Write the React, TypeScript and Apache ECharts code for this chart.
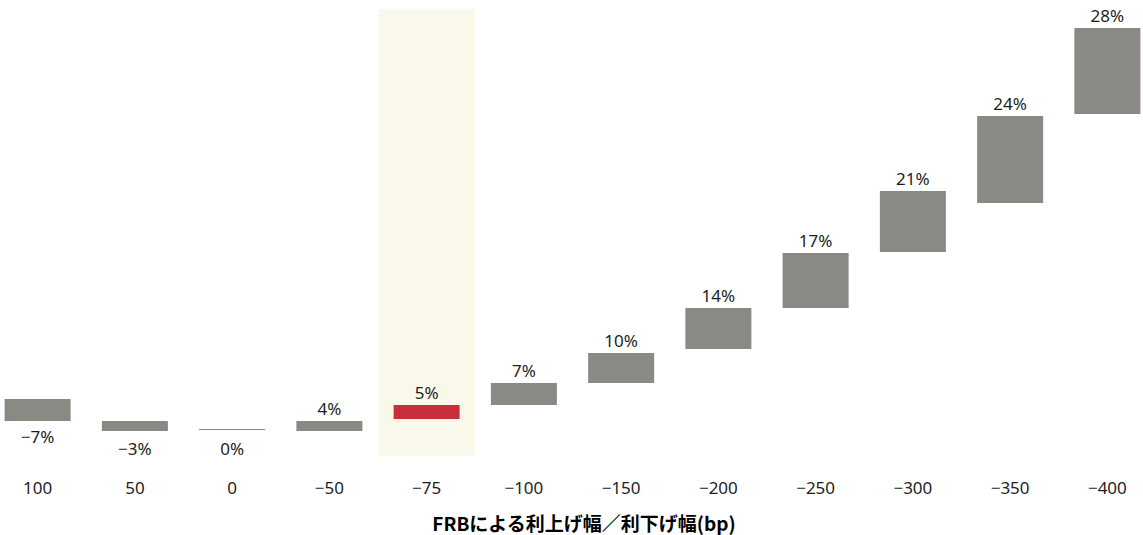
import React, { useEffect, useRef } from "react";
import * as echarts from "echarts";

// FRB rate change (bp)
const categories = ["100", "50", "0", "−50", "−75", "−100", "−150", "−200", "−250", "−300", "−350", "−400"];
// floating bar range (low / high), chart units
const rangeLow = [0.9, -0.1, 0, -0.1, 1.1, 2.5, 4.7, 8.1, 12.2, 17.8, 22.7, 31.6];
const rangeHigh = [3.1, 0.9, 0.1, 0.9, 2.5, 4.7, 7.7, 12.2, 17.7, 23.9, 31.4, 40.2];
const pctLabels = ["−7%", "−3%", "0%", "4%", "5%", "7%", "10%", "14%", "17%", "21%", "24%", "28%"];
const labelBelow = [true, true, true, false, false, false, false, false, false, false, false, false];
const highlightCategory = "−75";

const GRAY = "#8b8984";
const RED = "#c92f3a";
const FONT = "'Noto Sans', 'Open Sans', sans-serif";
const SHIFT = 11;

export default function App() {
  const ref = useRef<HTMLDivElement>(null);
  useEffect(() => {
    if (!ref.current) return;
    const chart = echarts.init(ref.current, undefined, { renderer: "svg" });
    const base = rangeLow.map((v) => v);
    const size = rangeHigh.map((h, i) => +(h - rangeLow[i]).toFixed(2));
    const highlight = categories.map((c) => (c === highlightCategory ? 1 : null));
    const belowDist = [7, 9, 10];
    chart.setOption({
      animation: false,
      grid: [{ left: 0, right: 0, top: 9, bottom: 79 }],
      xAxis: [
        {
          type: "category",
          data: categories,
          axisLine: { show: false },
          axisTick: { show: false },
          axisLabel: { margin: 23, fontSize: 17, color: "#1e1e1e", fontFamily: FONT },
        },
        { type: "category", data: categories, show: false },
      ],
      yAxis: [
        { type: "value", min: -2.6, max: 42.1, show: false, splitLine: { show: false } },
        { type: "value", min: 0, max: 1, show: false, splitLine: { show: false } },
      ],
      series: [
        {
          type: "bar",
          xAxisIndex: 1,
          yAxisIndex: 1,
          data: highlight,
          barWidth: "100%",
          itemStyle: { color: "#faf8ea" },
          silent: true,
          z: 1,
        },
        {
          type: "bar",
          stack: "range",
          stackStrategy: "all",
          data: base,
          barWidth: 66,
          itemStyle: { color: "transparent" },
          silent: true,
          z: 2,
        },
        {
          type: "bar",
          stack: "range",
          stackStrategy: "all",
          barWidth: 66,
          z: 3,
          data: size.map((v, i) => ({
            value: v,
            itemStyle: { color: categories[i] === highlightCategory ? RED : GRAY },
            label: {
              show: true,
              position: labelBelow[i] ? "bottom" : "top",
              distance: labelBelow[i] ? belowDist[i] : 4,
              formatter: pctLabels[i],
              fontSize: 17,
              color: "#1e1e1e",
              fontFamily: FONT,
            },
          })),
        },
      ],
      graphic: [
        {
          type: "text",
          x: 584 + SHIFT,
          y: 522,
          style: {
            text: "FRBによる利上げ幅／利下げ幅(bp)",
            fontSize: 19,
            lineHeight: 20,
            fontWeight: "bold",
            fill: "#000",
            align: "center",
            verticalAlign: "middle",
            fontFamily: "'Noto Sans CJK JP', 'Noto Sans', sans-serif",
          },
        },
      ],
    });
    return () => chart.dispose();
  }, []);
  return (
    <div style={{ position: "absolute", left: 0, top: 0, width: 1143, height: 535, overflow: "hidden" }}>
      <div
        ref={ref}
        style={{ position: "absolute", left: -SHIFT, top: 0, width: 1143 + SHIFT + 13, height: 535 }}
      />
    </div>
  );
}
